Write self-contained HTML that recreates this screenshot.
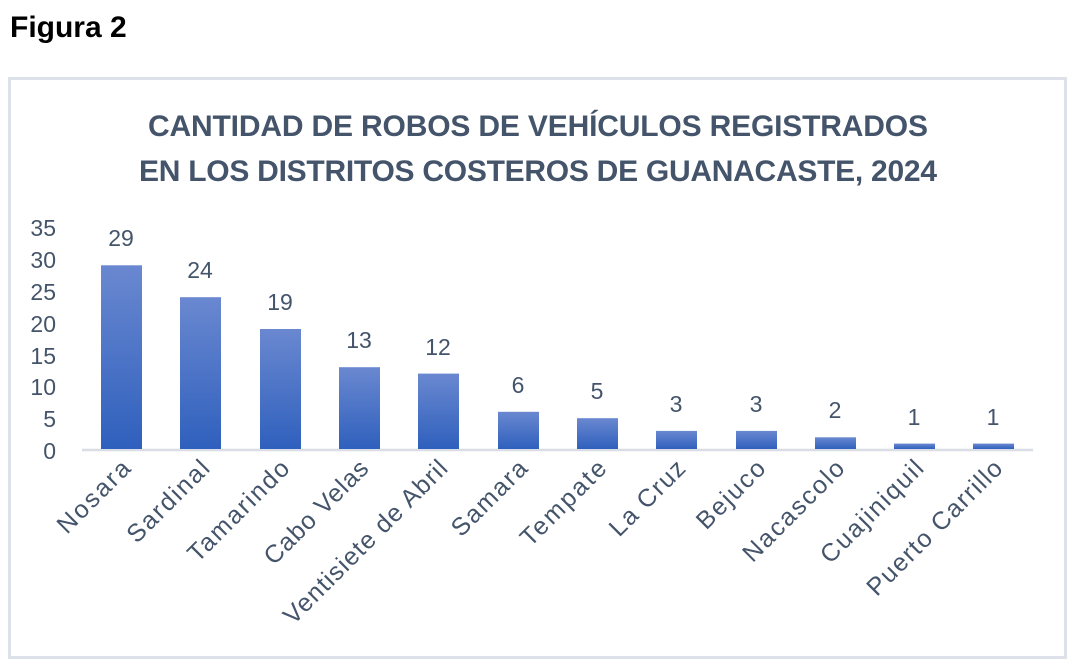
<!DOCTYPE html>
<html><head><meta charset="utf-8"><style>
body{margin:0;background:#fff;width:1073px;height:667px;overflow:hidden}
</style></head><body>
<svg width="1073" height="667" xmlns="http://www.w3.org/2000/svg" font-family="Liberation Sans, sans-serif">
<defs><linearGradient id="g" x1="0" y1="0" x2="0" y2="1"><stop offset="0" stop-color="#6a88d0"/><stop offset="1" stop-color="#2f60bd"/></linearGradient></defs>
<text x="10" y="37" font-size="30" font-weight="bold" fill="#000">Figura 2</text>
<rect x="9.5" y="78.5" width="1056" height="579" fill="none" stroke="#dde2ea" stroke-width="3"/>
<g font-size="30" font-weight="bold" fill="#44546a" text-anchor="middle">
<text x="538" y="136" textLength="780">CANTIDAD DE ROBOS DE VEHÍCULOS REGISTRADOS</text>
<text x="538" y="181" textLength="798">EN LOS DISTRITOS COSTEROS DE GUANACASTE, 2024</text>
</g>
<g font-size="23" fill="#44546a" text-anchor="end">
<text x="56" y="459">0</text><text x="56" y="427">5</text><text x="56" y="395">10</text><text x="56" y="364">15</text><text x="56" y="332">20</text><text x="56" y="300">25</text><text x="56" y="268">30</text><text x="56" y="236">35</text>
</g>
<line x1="82" y1="450" x2="1033" y2="450" stroke="#d9dde6" stroke-width="2.5"/>
<g fill="url(#g)">
<rect x="101" y="265.3" width="41" height="183.7"/>
<rect x="180" y="297.2" width="41" height="151.8"/>
<rect x="260" y="329" width="41" height="120"/>
<rect x="339" y="367.2" width="41" height="81.8"/>
<rect x="418" y="373.6" width="41" height="75.4"/>
<rect x="498" y="411.8" width="41" height="37.2"/>
<rect x="577" y="418.2" width="41" height="30.8"/>
<rect x="656" y="430.9" width="41" height="18.1"/>
<rect x="736" y="430.9" width="41" height="18.1"/>
<rect x="815" y="437.3" width="41" height="11.7"/>
<rect x="894" y="443.6" width="41" height="5.4"/>
<rect x="973" y="443.6" width="41" height="5.4"/>
</g>
<g font-size="23" fill="#44546a" text-anchor="middle">
<text x="121" y="246">29</text><text x="200" y="278">24</text><text x="280" y="310">19</text><text x="359" y="348">13</text><text x="438" y="355">12</text><text x="518" y="393">6</text><text x="597" y="399">5</text><text x="676" y="412">3</text><text x="756" y="412">3</text><text x="835" y="418">2</text><text x="914" y="425">1</text><text x="993" y="425">1</text>
</g>
<g font-size="25" fill="#44546a" text-anchor="end">
<text transform="translate(132,470) rotate(-45)" textLength="92">Nosara</text>
<text transform="translate(211,470) rotate(-45)" textLength="105">Sardinal</text>
<text transform="translate(291,470) rotate(-45)" textLength="132">Tamarindo</text>
<text transform="translate(370,470) rotate(-45)" textLength="136">Cabo Velas</text>
<text transform="translate(449,470) rotate(-45)" textLength="220">Ventisiete de Abril</text>
<text transform="translate(529,470) rotate(-45)" textLength="96">Samara</text>
<text transform="translate(608,470) rotate(-45)" textLength="110">Tempate</text>
<text transform="translate(687,470) rotate(-45)" textLength="96">La Cruz</text>
<text transform="translate(767,470) rotate(-45)" textLength="86">Bejuco</text>
<text transform="translate(846,470) rotate(-45)" textLength="132">Nacascolo</text>
<text transform="translate(925,470) rotate(-45)" textLength="134">Cuajiniquil</text>
<text transform="translate(1004,470) rotate(-45)" textLength="180">Puerto Carrillo</text>
</g>
</svg>
</body></html>
